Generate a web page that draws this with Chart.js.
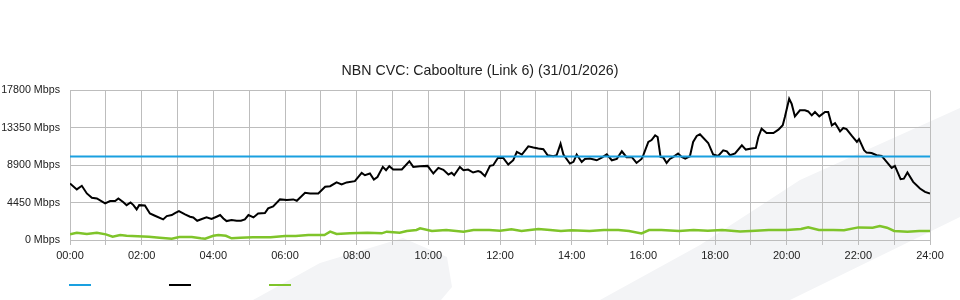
<!DOCTYPE html>
<html>
<head>
<meta charset="utf-8">
<script src="https://cdn.jsdelivr.net/npm/chart.js@4.4.1/dist/chart.umd.min.js"></script>
<style>
  html, body { margin: 0; padding: 0; background: #ffffff; }
  #wrap { position: relative; width: 960px; height: 300px; overflow: hidden; }
  .wm { position: absolute; left: 0; top: 0; width: 960px; height: 300px; background: #f3f4f6; }
  #wm1 { clip-path: polygon(600px 300px, 700px 245px, 800px 180px, 960px 108px, 960px 217px, 790px 300px); }
  #wm2 { clip-path: polygon(253px 300px, 320px 263px, 403px 238px, 447px 257px, 452px 287px, 441px 300px); }
  canvas { position: absolute; left: 0; top: 0; }
  .lg { position: absolute; top: 284px; width: 22px; height: 2px; }
</style>
</head>
<body>
<div id="wrap">
  <div class="wm" id="wm1"></div>
  <div class="wm" id="wm2"></div>
  <canvas id="c" width="960" height="300"></canvas>
  <div class="lg" style="left:69px;background:#1aa0e0"></div>
  <div class="lg" style="left:169px;background:#000000"></div>
  <div class="lg" style="left:269px;background:#7fc42a"></div>
</div>
<script>
const chartTitle = "NBN CVC: Caboolture (Link 6) (31/01/2026)";
const yTicks = [0, 4450, 8900, 13350, 17800];

const capacityTimes = [0, 24];
const capacityValues = [9950, 9950];

const trafficTimes = [0.00,0.19,0.33,0.47,0.61,0.75,0.98,1.12,1.26,1.35,1.49,1.58,1.69,1.77,1.86,1.93,2.09,2.23,2.37,2.60,2.70,2.84,2.93,3.04,3.21,3.35,3.44,3.55,3.68,3.81,3.95,4.09,4.19,4.28,4.37,4.51,4.65,4.77,4.88,4.98,5.12,5.25,5.44,5.53,5.67,5.86,6.05,6.23,6.33,6.56,6.70,6.93,7.12,7.26,7.44,7.58,7.72,7.95,8.14,8.23,8.37,8.48,8.58,8.73,8.82,8.91,9.02,9.26,9.47,9.58,9.77,9.98,10.14,10.28,10.42,10.56,10.65,10.72,10.88,10.98,11.11,11.25,11.39,11.46,11.58,11.72,11.81,11.94,12.09,12.23,12.37,12.47,12.61,12.79,12.93,13.07,13.21,13.33,13.49,13.58,13.69,13.77,13.95,14.05,14.14,14.28,14.37,14.51,14.70,14.84,14.98,15.12,15.26,15.40,15.53,15.68,15.81,15.95,16.00,16.14,16.23,16.33,16.40,16.48,16.56,16.65,16.74,16.84,16.97,17.07,17.17,17.30,17.39,17.49,17.58,17.81,17.95,18.09,18.23,18.33,18.42,18.56,18.75,18.86,19.02,19.14,19.21,19.30,19.44,19.63,19.77,19.89,19.95,20.07,20.14,20.23,20.37,20.51,20.60,20.70,20.79,20.91,21.07,21.16,21.26,21.35,21.41,21.49,21.58,21.67,21.82,21.96,22.02,22.16,22.23,22.37,22.51,22.65,22.79,22.93,23.02,23.18,23.27,23.37,23.53,23.72,23.86,24.00];
const trafficValues = [6730,6020,6450,5540,5020,4950,4350,4630,4630,4950,4500,4150,4470,4150,3640,4150,4100,3160,2890,2450,2850,2970,3200,3440,3050,2770,2690,2290,2500,2690,2500,2770,2970,2570,2250,2370,2290,2300,2450,2970,2690,3160,3200,3760,4000,4830,4750,4830,4670,5610,5540,5540,6330,6400,6850,6610,6850,7000,7990,7710,7910,7200,7500,8700,8310,8780,8390,8390,9370,8700,8780,8820,7910,8580,8350,7790,8000,7710,8700,8300,8380,8030,8200,8100,7600,8820,8900,9770,9770,8980,9490,10480,10170,11150,11000,10880,10800,10090,9970,10090,11470,10170,9100,9300,10170,9290,9650,9690,9490,9800,10200,9490,9650,10560,9850,9850,9170,9650,10090,11670,11900,12460,12260,9890,9800,9170,9650,9890,10290,9890,9690,9970,11670,12380,12580,11550,10170,10010,10680,10560,10090,10300,11270,10760,10880,10960,12260,13250,12730,12730,13130,13650,14630,16810,16200,14710,15430,15430,15300,14830,15230,14710,15230,15230,13650,13900,13500,12930,13330,13200,12380,11670,12000,10680,10400,10350,10090,10000,9290,8580,8820,7240,7300,8030,6920,6130,5730,5540];

const otherTimes = [0.00,0.19,0.47,0.75,1.00,1.19,1.40,1.58,2.20,2.50,2.84,3.05,3.40,3.65,3.77,4.00,4.14,4.35,4.51,4.75,5.10,5.60,6.00,6.30,6.65,7.10,7.26,7.44,7.81,8.30,8.70,8.84,9.20,9.40,9.67,9.77,10.10,10.50,10.98,11.26,11.70,12.00,12.32,12.60,13.07,13.40,13.70,14.00,14.50,14.90,15.30,15.60,15.95,16.16,16.50,17.00,17.40,17.80,18.20,18.70,19.00,19.50,20.00,20.40,20.60,20.90,21.30,21.60,22.00,22.40,22.60,22.80,23.00,23.37,23.70,24.00];
const otherValues = [670,870,710,870,670,400,590,500,400,280,160,350,350,200,160,500,590,500,200,280,320,320,470,470,590,590,990,710,790,870,790,990,870,1070,1190,1390,1070,1190,990,1190,1190,1110,1270,1070,1310,1190,1070,1150,1070,1190,1190,1070,790,1190,1190,1070,1190,1100,1190,1000,1070,1190,1190,1300,1500,1190,1190,1150,1500,1460,1660,1460,1070,990,1070,1070];

function pts(ts, vs) { return ts.map((t, i) => ({ x: t, y: vs[i] })); }
function hh(v) { return (v < 10 ? '0' : '') + v + ':00'; }

new Chart(document.getElementById('c'), {
  type: 'line',
  data: {
    datasets: [
      { data: pts(otherTimes, otherValues), borderColor: '#7fc42a', borderWidth: 2.5, pointRadius: 0, tension: 0 },
      { data: pts(capacityTimes, capacityValues), borderColor: '#1aa0e0', borderWidth: 2, pointRadius: 0, tension: 0 },
      { data: pts(trafficTimes, trafficValues), borderColor: '#000000', borderWidth: 2, pointRadius: 0, tension: 0 }
    ]
  },
  options: {
    responsive: false,
    animation: false,
    layout: { padding: { left: 0, right: 0, top: 0, bottom: 30 } },
    plugins: {
      legend: { display: false },
      tooltip: { enabled: false },
      title: {
        display: true,
        text: chartTitle,
        color: '#222222',
        font: { family: '"Liberation Sans", Arial, sans-serif', size: 14.2, weight: 'normal' },
        padding: { top: 62.5, bottom: 10.9 }
      }
    },
    scales: {
      x: {
        type: 'linear',
        min: 0, max: 24,
        afterFit: s => { s.height = 30; },
        border: { display: false },
        grid: { color: '#bdbdbd', lineWidth: 1, drawTicks: true, tickLength: 5 },
        ticks: {
          stepSize: 1, autoSkip: false, maxRotation: 0, padding: 4,
          color: '#222222',
          font: { family: '"Liberation Sans", Arial, sans-serif', size: 11 },
          callback: v => (v % 2 === 0 ? hh(v) : '')
        }
      },
      y: {
        min: 0, max: 17800,
        afterFit: s => { s.width = 70; },
        afterBuildTicks: s => { s.ticks = yTicks.map(v => ({ value: v })); },
        border: { display: false },
        grid: { color: '#bdbdbd', lineWidth: 1, drawTicks: false },
        ticks: {
          padding: 10,
          color: '#222222',
          font: { family: '"Liberation Sans", Arial, sans-serif', size: 10.7 },
          callback: v => v + ' Mbps'
        }
      },
      yRight: {
        position: 'right',
        min: 0, max: 17800,
        afterFit: s => { s.width = 30; },
        border: { display: false },
        grid: { display: false, drawTicks: false },
        ticks: { display: false }
      }
    }
  }
});
</script>
</body>
</html>
